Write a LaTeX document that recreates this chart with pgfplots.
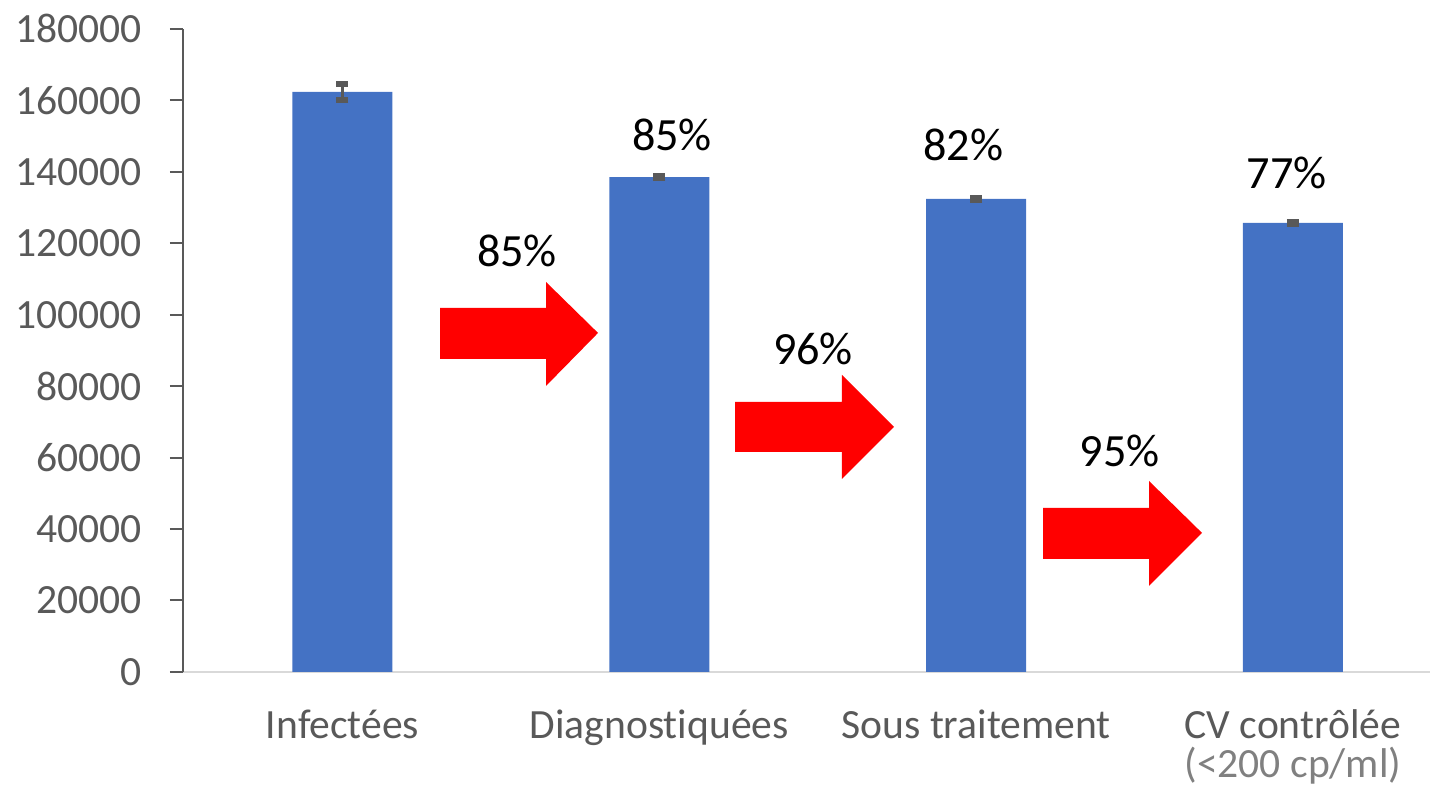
\documentclass[border=0pt]{standalone}
\usepackage{pgfplots}
\pgfplotsset{compat=1.18}
\usepackage{fontspec}
\setmainfont{Carlito}[Ligatures={NoCommon}]
\definecolor{barblue}{HTML}{4472C4}
\definecolor{axgray}{HTML}{595959}
\definecolor{lightaxis}{HTML}{D9D9D9}
\definecolor{subgray}{HTML}{808080}
\definecolor{arrowred}{HTML}{FF0000}
\newcommand{\twolines}[2]{\vtop{\baselineskip=19.5pt\lineskiplimit=-100pt
  \hbox to 0pt{\hss #1\hss}\hbox to 0pt{\hss #2\hss}}}
\begin{document}
\begin{tikzpicture}
\begin{axis}[
  scale only axis,
  width=623.5pt, height=321.5pt,
  xmin=-0.5035, xmax=3.4328,
  ymin=0, ymax=180000,
  clip=false,
  axis lines*=left,
  axis line style={-},
  x axis line style={draw=lightaxis, line width=1pt},
  y axis line style={draw=axgray, line width=1pt},
  ytick={0,20000,...,180000},
  scaled y ticks=false,
  tick align=outside,
  major tick length=6.5pt,
  ytick style={draw=axgray, line width=1pt},
  xtick style={draw=none},
  yticklabel style={/pgf/number format/fixed, /pgf/number format/1000 sep={},
    /pgf/number format/assume math mode=true,
    anchor=east, inner sep=0pt, xshift=-14pt, text=axgray,
    font=\fontsize{20.8pt}{25pt}\selectfont},
  xtick={0,1,2,3},
  xticklabels={Infectées, Diagnostiquées, Sous traitement, {\twolines{CV contrôlée}{\textcolor{subgray}{(<200 cp/ml)}}}},
  xticklabel style={anchor=base, inner sep=0pt, yshift=-27pt, text=axgray,
    font=\fontsize{20.8pt}{19.5pt}\selectfont},
  ybar, bar width=50pt,
]
\addplot[fill=barblue, draw=none,
  error bars/.cd, y dir=both, y explicit,
  error bar style={line width=1.5pt, draw=axgray},
  error mark options={rotate=90, mark size=3pt, line width=3pt, draw=axgray}]
  coordinates {
  (0,162400) +- (0,2200)
  (1,138500) +- (0,300)
  (2,132400) +- (0,300)
  (3,125700) +- (0,300)
};
% red arrows (annotations)
\fill[arrowred] (axis cs:0.3078,101880) -- (axis cs:0.6424,101880) -- (axis cs:0.6424,109160)
  -- (axis cs:0.8066,94890) -- (axis cs:0.6424,80050) -- (axis cs:0.6424,87610)
  -- (axis cs:0.3078,87610) -- cycle;
\fill[arrowred] (axis cs:1.2390,75570) -- (axis cs:1.5767,75570) -- (axis cs:1.5767,83130)
  -- (axis cs:1.7409,68580) -- (axis cs:1.5767,54020) -- (axis cs:1.5767,61580)
  -- (axis cs:1.2390,61580) -- cycle;
\fill[arrowred] (axis cs:2.2112,45900) -- (axis cs:2.5458,45900) -- (axis cs:2.5458,53460)
  -- (axis cs:2.7131,38910) -- (axis cs:2.5458,24070) -- (axis cs:2.5458,31630)
  -- (axis cs:2.2112,31630) -- cycle;
% percentage labels
\begin{scope}[every node/.style={anchor=base, inner sep=0pt, font=\fontsize{23.1pt}{27pt}\selectfont, text=black}]
\node at (axis cs:1.040,146100) {85\%};
\node at (axis cs:1.959,143030) {82\%};
\node at (axis cs:2.981,135190) {77\%};
\node at (axis cs:0.551,113360) {85\%};
\node at (axis cs:1.485,85930) {96\%};
\node at (axis cs:2.454,57380) {95\%};
\end{scope}
\coordinate (BL) at (axis cs:-1.0811,-33028);
\coordinate (TR) at (axis cs:3.4328,188093);
\end{axis}
\pgfresetboundingbox
\useasboundingbox (BL) rectangle (TR);
\end{tikzpicture}
\end{document}
